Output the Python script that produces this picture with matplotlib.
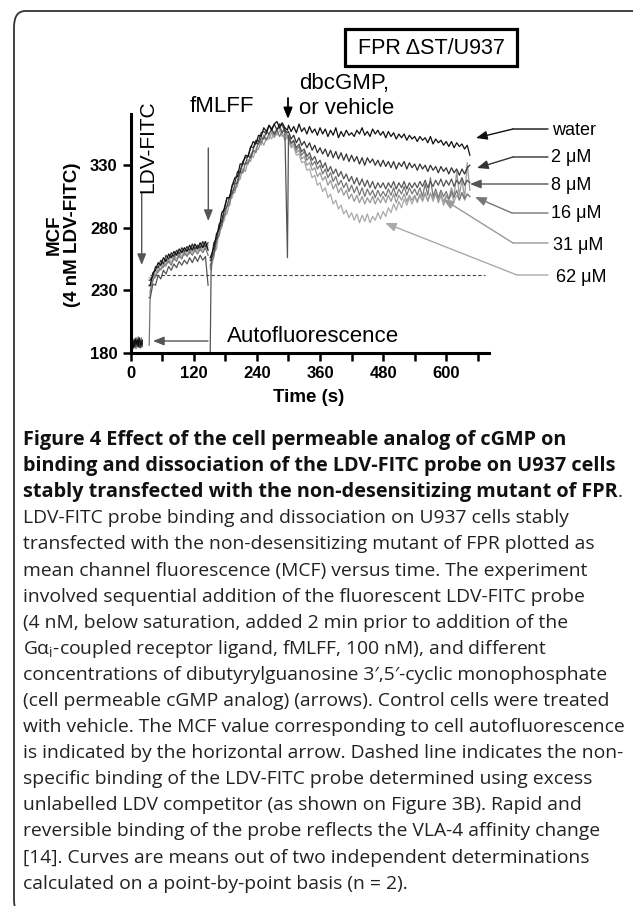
import numpy as np
import matplotlib
matplotlib.use("Agg")
import matplotlib.pyplot as plt
from matplotlib.patches import FancyBboxPatch, Rectangle

# ---- data (MCF vs time) ----
# segment times (s)
t_auto = np.arange(2, 23, 2)
t_ldv = np.array([35] + list(range(37, 148, 5)))
t_fmlff = np.array([151] + list(range(153, 294, 5)))
t_dbc = np.array([298] + list(range(300, 646, 5)))

water_a = [186, 189, 184, 191, 187, 190, 185, 192, 188, 186, 190]
water_b = [234, 234, 244, 246, 252, 250, 256, 253, 259, 256, 261, 258, 263, 260, 264, 261, 266, 262,
           267, 263, 268, 264, 269, 262]
water_c = [256, 258, 264, 275, 279, 292, 295, 304, 304, 314, 320, 321, 331, 331, 338, 337, 344, 349,
           347, 354, 353, 360, 357, 362, 358, 363, 365, 360, 364, 360]
water_d = [358,
           362, 357, 361, 356, 363, 357, 360, 355, 361, 356, 359, 354, 360,
           355, 359, 353, 358, 354, 360, 352, 357, 353, 358, 354, 356,
           353, 358, 355, 360, 354, 357, 353, 359, 355, 358, 354, 357,
           352, 357, 353, 356, 351, 355, 352, 355, 350, 354, 351, 353,
           349, 353, 350, 352, 348, 353, 347, 351, 348, 350, 346, 349,
           345, 349, 344, 348, 345, 347, 343, 346, 338]

two_a = [184, 188, 190, 185, 189, 186, 191, 187, 184, 189, 187]
two_b = [238, 238, 241, 249, 248, 254, 251, 258, 255, 260, 257, 262, 259, 264, 261, 265, 262, 267,
         263, 266, 264, 269, 265, 268]
two_c = [254, 254, 268, 271, 283, 285, 296, 304, 304, 314, 316, 325, 324, 333, 336, 337, 345, 344,
         350, 349, 356, 357, 355, 362, 359, 363, 358, 363, 362, 358]
two_d = [356,
         357, 351, 354, 348, 352, 346, 349, 344, 348, 342, 346, 340, 344,
         339, 343, 337, 342, 336, 341, 335, 340, 334, 339, 333, 338,
         333, 337, 331, 336, 330, 336, 332, 335, 330, 334, 329, 334,
         329, 333, 328, 333, 327, 332, 329, 333, 327, 332, 328, 331,
         326, 331, 327, 330, 325, 330, 326, 329, 324, 329, 325, 328,
         323, 328, 324, 327, 322, 327, 323, 328, 330]

eight_a = [187, 183, 189, 186, 192, 185, 188, 184, 190, 187, 185]
eight_b = [224, 224, 235, 234, 242, 239, 246, 243, 249, 246, 251, 248, 253, 250, 254, 251, 256, 252,
           257, 253, 258, 254, 257, 234]
eight_c = [178, 255, 260, 271, 281, 282, 294, 297, 306, 307, 315, 316, 326, 331, 331, 338, 336, 343,
           348, 347, 352, 351, 357, 355, 359, 355, 359, 360, 356, 360]
eight_d = [256,
           354, 348, 350, 344, 347, 341, 343, 337, 340, 334, 337, 331, 334,
           328, 332, 325, 329, 323, 327, 321, 325, 319, 323, 317, 321,
           315, 320, 314, 319, 313, 318, 312, 317, 311, 316, 312, 316,
           311, 316, 312, 317, 311, 316, 312, 317, 311, 316, 312, 316,
           312, 317, 313, 318, 312, 317, 313, 318, 314, 319, 313, 318,
           314, 319, 313, 318, 315, 320, 314, 318, 316]

sixteen_a = [185, 190, 186, 188, 183, 191, 187, 189, 185, 192, 186]
sixteen_b = [186, 230, 238, 242, 245, 247, 249, 251, 253, 250, 256, 253, 258, 255, 260, 257, 261, 258,
             262, 259, 263, 260, 264, 258]
sixteen_c = [250, 251, 257, 270, 274, 286, 289, 298, 298, 310, 310, 318, 325, 324, 332, 331, 338, 342,
             340, 349, 348, 354, 350, 355, 358, 354, 358, 353, 357, 357]
sixteen_d = [354,
             353, 347, 349, 342, 345, 338, 341, 334, 337, 330, 333, 327, 330,
             323, 327, 320, 324, 317, 321, 314, 318, 312, 316, 309, 314,
             308, 313, 306, 312, 305, 311, 306, 310, 304, 310, 305, 309,
             305, 311, 306, 312, 305, 311, 307, 313, 306, 312, 307, 311,
             306, 312, 305, 315, 306, 320, 305, 311, 304, 310, 305, 309,
             303, 309, 304, 310, 302, 308, 303, 307, 305]

thirtyone_a = [188, 185, 191, 184, 189, 187, 193, 186, 189, 184, 188]
thirtyone_b = [240, 240, 237, 246, 244, 251, 248, 255, 252, 258, 254, 260, 256, 262, 258, 263, 259, 265,
               261, 266, 262, 267, 263, 266]
thirtyone_c = [248, 246, 260, 263, 277, 280, 290, 291, 300, 308, 308, 317, 319, 327, 325, 334, 333, 341,
               342, 343, 350, 346, 352, 351, 356, 352, 357, 363, 356, 350]
thirtyone_d = [353,
               352, 345, 347, 340, 342, 335, 337, 330, 332, 326, 328, 321, 324,
               318, 321, 314, 318, 311, 315, 308, 312, 306, 310, 303, 307,
               301, 306, 300, 305, 299, 304, 300, 305, 299, 304, 300, 305,
               300, 306, 301, 307, 300, 306, 302, 307, 301, 306, 302, 306,
               301, 307, 302, 308, 301, 307, 303, 308, 300, 306, 298, 305,
               303, 312, 305, 325, 306, 318, 304, 332, 310]

sixtytwo_a = [183, 187, 185, 190, 186, 188, 184, 190, 187, 191, 189]
sixtytwo_b = [233, 233, 242, 240, 248, 246, 252, 249, 255, 252, 258, 255, 260, 257, 262, 258, 263, 260,
              264, 261, 265, 262, 266, 264]
sixtytwo_c = [249, 251, 258, 270, 273, 283, 286, 297, 303, 304, 312, 313, 323, 324, 332, 331, 338, 336,
              343, 348, 346, 353, 350, 355, 351, 357, 354, 358, 353, 355]
sixtytwo_d = [352,
              350, 344, 345, 338, 339, 332, 333, 326, 327, 320, 322, 314, 316,
              309, 312, 304, 307, 299, 302, 295, 298, 291, 294, 288, 292,
              286, 291, 284, 290, 285, 291, 284, 289, 286, 292, 287, 293,
              289, 296, 292, 299, 294, 301, 296, 303, 298, 304, 299, 305,
              300, 306, 301, 307, 302, 308, 301, 307, 302, 308, 301, 306,
              302, 307, 301, 306, 303, 308, 302, 307, 305]

nonspecific = 242.3  # dashed line level

labels = ["water", "2 \u03bcM", "8 \u03bcM", "16 \u03bcM", "31 \u03bcM", "62 \u03bcM"]
colors = ["#111111", "#333333", "#555555", "#777777", "#999999", "#aaaaaa"]

traces = [
    (water_a, water_b, water_c, water_d),
    (two_a, two_b, two_c, two_d),
    (eight_a, eight_b, eight_c, eight_d),
    (sixteen_a, sixteen_b, sixteen_c, sixteen_d),
    (thirtyone_a, thirtyone_b, thirtyone_c, thirtyone_d),
    (sixtytwo_a, sixtytwo_b, sixtytwo_c, sixtytwo_d),
]

caption_bold = [
    "Figure 4 Effect of the cell permeable analog of cGMP on",
    "binding and dissociation of the LDV-FITC probe on U937 cells",
    "stably transfected with the non-desensitizing mutant of FPR",
]
caption_body = [
    "LDV-FITC probe binding and dissociation on U937 cells stably",
    "transfected with the non-desensitizing mutant of FPR plotted as",
    "mean channel fluorescence (MCF) versus time. The experiment",
    "involved sequential addition of the fluorescent LDV-FITC probe",
    "(4 nM, below saturation, added 2 min prior to addition of the",
    "G\u03b1$_\\mathregular{i}$-coupled receptor ligand, fMLFF, 100 nM), and different",
    "concentrations of dibutyrylguanosine 3\u2032,5\u2032-cyclic monophosphate",
    "(cell permeable cGMP analog) (arrows). Control cells were treated",
    "with vehicle. The MCF value corresponding to cell autofluorescence",
    "is indicated by the horizontal arrow. Dashed line indicates the non-",
    "specific binding of the LDV-FITC probe determined using excess",
    "unlabelled LDV competitor (as shown on Figure 3B). Rapid and",
    "reversible binding of the probe reflects the VLA-4 affinity change",
    "[14]. Curves are means out of two independent determinations",
    "calculated on a point-by-point basis (n = 2).",
]

# ---- figure ----
W, H = 633, 906
fig = plt.figure(figsize=(W / 100, H / 100), dpi=100)
ARIAL = ["Liberation Sans", "DejaVu Sans"]
CAP = ["Open Sans", "DejaVu Sans"]


def fp(x, y):
    # pixel position measured from the top-left -> figure pixels
    return (x, H - y)


# outer rounded frame
frame = FancyBboxPatch((14 / W, -10 / H), 700 / W, (H - 11 + 10) / H,
                       boxstyle="round,pad=0,rounding_size=0.018",
                       transform=fig.transFigure, fill=False, ec="#333333", lw=1.3)
fig.add_artist(frame)

ax = fig.add_axes([130.8 / W, 1 - 352.7 / H, 358.5 / W, 238.7 / H])
nan = [np.nan]
for (a, b, c, d), col in reversed(list(zip(traces, colors))):
    tt = np.concatenate([t_auto, nan, t_ldv, nan, t_fmlff, t_dbc])
    vv = np.concatenate([a, nan, b, nan, c, d])
    ax.plot(tt, vv, color=col, lw=0.9)

ax.plot([36.5, 674], [nonspecific, nonspecific], color="#444444", lw=0.8, dashes=(3, 2))

ax.set_xlim(0, 682)
ax.set_ylim(180, 371)
ax.set_xticks(range(0, 601, 120))
ax.set_xticks(range(60, 661, 120), minor=True)
ax.set_yticks([180, 230, 280, 330])
for s in ["top", "right"]:
    ax.spines[s].set_visible(False)
for s in ["left", "bottom"]:
    ax.spines[s].set_linewidth(2.2)
ax.tick_params(which="both", direction="out", length=5.5, width=1.8, pad=4)
for lab in ax.get_xticklabels() + ax.get_yticklabels():
    lab.set_fontfamily(ARIAL)
    lab.set_fontweight("bold")
    lab.set_fontsize(12)

fig.text(309 / W, 1 - 398 / H, "Time (s)", ha="center", va="center",
         family=ARIAL, weight="bold", fontsize=13.5)
fig.text(63 / W, 1 - 235 / H, "MCF\n(4 nM LDV-FITC)", ha="center", va="center",
         rotation=90, family=ARIAL, weight="bold", fontsize=13.5, linespacing=1.1)

# annotations
fig.add_artist(Rectangle((345 / W, 1 - 66 / H), 172 / W, 37 / H, transform=fig.transFigure,
                         fill=False, ec="black", lw=2.3))
fig.text(431 / W, 1 - 48 / H, "FPR \u0394ST/U937", ha="center", va="center",
         family=ARIAL, fontsize=15.5)
fig.text(299 / W, 1 - 83 / H, "dbcGMP,", ha="left", va="center", family=ARIAL, fontsize=16)
fig.text(299 / W, 1 - 108 / H, "or vehicle", ha="left", va="center", family=ARIAL, fontsize=16)
fig.text(222 / W, 1 - 106 / H, "fMLFF", ha="center", va="center", family=ARIAL, fontsize=16)
fig.text(148 / W, 1 - 147 / H, "LDV-FITC", ha="center", va="center", rotation=90,
         family=ARIAL, fontsize=15)
fig.text(227 / W, 1 - 336 / H, "Autofluorescence", ha="left", va="center",
         family=ARIAL, fontsize=16)

head = "-|>,head_length=0.55,head_width=0.22"


def arrow(p_from, p_to, color, lw=1.0):
    ax.annotate("", xy=fp(*p_to), xytext=fp(*p_from), xycoords="figure pixels",
                textcoords="figure pixels", annotation_clip=False,
                arrowprops=dict(arrowstyle=head, color=color, lw=lw,
                                shrinkA=0, shrinkB=0, mutation_scale=12))


def seg(p_from, p_to, color, lw=1.0):
    ax.annotate("", xy=fp(*p_to), xytext=fp(*p_from), xycoords="figure pixels",
                textcoords="figure pixels", annotation_clip=False,
                arrowprops=dict(arrowstyle="-", color=color, lw=lw, shrinkA=0, shrinkB=0))


arrow((141.7, 193), (141.7, 265), "#555555")
arrow((208.3, 148), (208.3, 221), "#555555")
arrow((288, 98), (288, 119), "black", 1.3)
arrow((208, 341), (153, 341), "#555555")

label_pos = [(552, 130), (551, 158), (551, 185), (551, 213), (553, 245), (556, 277)]
arrow_geo = [
    ((548, 129), (513, 129), (476, 138)),
    ((548, 157), (513, 157), (477, 168)),
    ((548, 184), (548, 184), (470, 184)),
    ((548, 213), (512, 213), (475, 197)),
    ((548, 243), (513, 243), (443, 199)),
    ((548, 275), (517, 275), (385, 223)),
]
for lab, (lx, ly), (p0, p1, p2), col in zip(labels, label_pos, arrow_geo, colors):
    fig.text(lx / W, 1 - ly / H, lab, ha="left", va="center", family=ARIAL, fontsize=13)
    if p0 != p1:
        seg(p0, p1, col)
    arrow(p1, p2, col)

# caption
y0, dy = 440, 26.1
for i, line in enumerate(caption_bold):
    t = fig.text(23 / W, 1 - (y0 + i * dy) / H, line, ha="left", va="center",
                 family=CAP, weight="bold", fontsize=14.3, color="#111111")
fig.canvas.draw()
bb = t.get_window_extent()
fig.text(bb.x1 / W, 1 - (y0 + 2 * dy) / H, ".", ha="left", va="center",
         family=CAP, fontsize=14, color="#222222")
for j, line in enumerate(caption_body):
    fig.text(23 / W, 1 - (y0 + (j + 3) * dy) / H, line, ha="left", va="center",
             family=CAP, fontsize=13.9, color="#222222")

fig.savefig("out.png", dpi=100)
